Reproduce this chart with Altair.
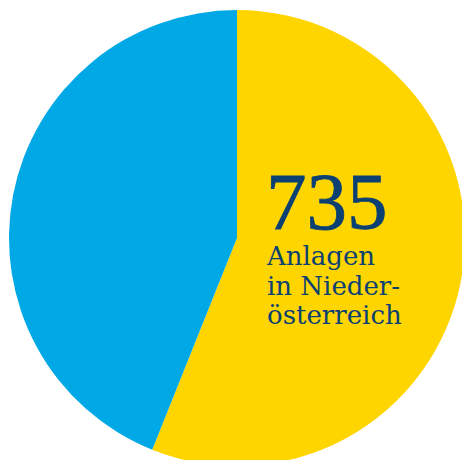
import altair as alt
import pandas as pd

categories = ["Niederösterreich", "Andere"]
values = [735, 576]
colors = ["#FFD500", "#00A8E6"]
big_label = "735"
label_lines = ["Anlagen", "in Nieder-", "österreich"]

df = pd.DataFrame({"cat": categories, "val": values, "order": [0, 1]})

pie = alt.Chart(df).mark_arc(outerRadius=228, stroke=None).encode(
    theta=alt.Theta("val:Q", stack=True),
    order=alt.Order("order:Q"),
    color=alt.Color("cat:N", scale=alt.Scale(domain=categories, range=colors), legend=None),
    x=alt.value(237),
    y=alt.value(238),
)

big = alt.Chart(pd.DataFrame({"t": [big_label]})).mark_text(
    align="left", baseline="alphabetic", font="Liberation Serif", fontSize=81,
    color="#0B4073", stroke="#0B4073", strokeWidth=0.8
).encode(text="t:N", x=alt.value(266), y=alt.value(229))

lines_df = pd.DataFrame({"t": label_lines, "i": [0, 1, 2]})
small = alt.Chart(lines_df).mark_text(
    align="left", baseline="alphabetic", font="DejaVu Serif", fontSize=26, color="#0B4073"
).encode(
    text="t:N",
    x=alt.value(267),
    y=alt.Y("i:Q", scale=alt.Scale(domain=[0, 2], range=[265, 324]), axis=None),
)

chart = alt.layer(pie, big, small).properties(
    width=462, height=460, padding=0, autosize=alt.AutoSizeParams(type="none")
).configure_view(stroke=None)

chart.save("out.html", embed_options={"renderer": "svg", "actions": False})
